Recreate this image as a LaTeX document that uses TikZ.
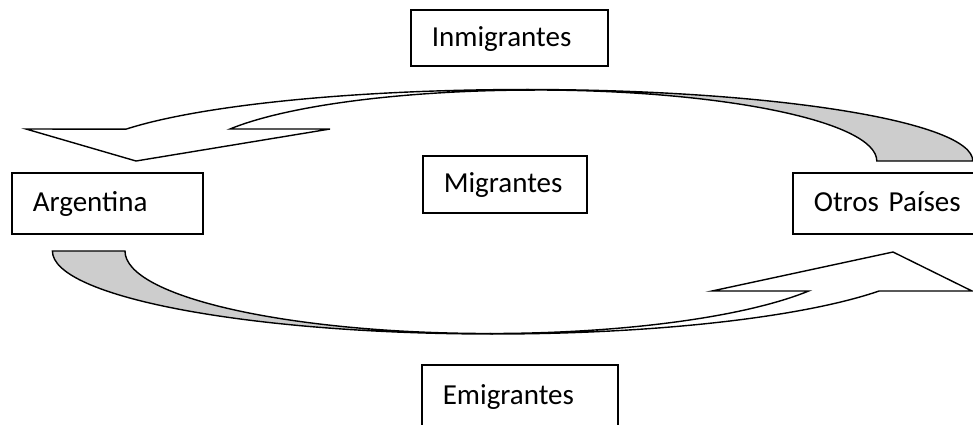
\documentclass[tikz,border=0pt]{standalone}
\usepackage{fontspec}
\setmainfont{Carlito}
\definecolor{backgray}{RGB}{205,205,205}
\begin{document}
\begin{tikzpicture}[x=1pt,y=-1pt,
  box/.style={draw, line width=1.6pt, anchor=north west, inner xsep=21pt, inner ysep=0pt,
    align=left, text height=20pt, text depth=3pt, font=\fontsize{29}{34}\selectfont},
  band/.style={draw, line width=1.4pt, line join=miter},
  front/.style={band, fill=white},
  back/.style={band, fill=backgray}]
\clip (0,0) rectangle (973,424);

% top curved arrow (Inmigrantes): from Otros Paises to Argentina
\draw[back] (526,89.5) arc[start angle=90, end angle=0, x radius=446.8pt, y radius=71.5pt]
  -- (876.8,161) arc[start angle=0, end angle=90, x radius=341.8pt, y radius=71pt] -- cycle;
\draw[front] (26,129) -- (136,161) -- (330,129) -- (230,129)
  arc[start angle=153.17, end angle=90, x radius=341.8pt, y radius=71pt]
  -- (526,89.5) arc[start angle=90, end angle=153.56, x radius=446.8pt, y radius=71.5pt] -- cycle;

% bottom curved arrow (Emigrantes): from Argentina to Otros Paises
\draw[back] (53,251) -- (125,251)
  arc[start angle=180, end angle=270, x radius=364.7pt, y radius=82.5pt]
  -- (493,334) arc[start angle=270, end angle=180, x radius=440.6pt, y radius=83pt] -- cycle;
\draw[front] (489.7,333.5) arc[start angle=270, end angle=331.0, x radius=364.7pt, y radius=82.5pt]
  -- (712,291) -- (893,252) -- (972,291) -- (879.1,291)
  arc[start angle=331.19, end angle=270, x radius=440.6pt, y radius=83pt] -- cycle;

% boxes
\node[box, text width=155pt, minimum height=56pt] (inm) at (410,9) {Inmigrantes};
\node[box, text width=122pt, minimum height=57pt] (mig) at (422,155) {Migrantes};
\node[box, text width=149pt, minimum height=61pt] (arg) at (11,172) {Argentina};
\node[box, text width=170pt, minimum height=61pt] (otr) at (792,172) {Otros Países};
\node[box, text width=154pt, minimum height=62pt] (emi) at (421,364) {Emigrantes};
\end{tikzpicture}
\end{document}
